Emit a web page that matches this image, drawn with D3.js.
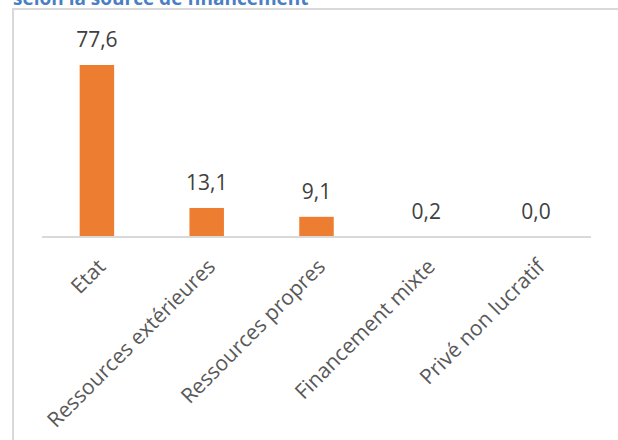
<!DOCTYPE html>
<html><head><meta charset="utf-8">
<script src="https://cdn.jsdelivr.net/npm/d3@7"></script>
<style>html,body{margin:0;padding:0;background:#fff;overflow:hidden}</style>
</head><body>
<svg id="c" width="618" height="440"></svg>
<script>
const categories = ["Etat", "Ressources extérieures", "Ressources propres", "Financement mixte", "Privé non lucratif"];
const values = [77.6, 13.1, 9.1, 0.2, 0.0];
const valueLabels = ["77,6", "13,1", "9,1", "0,2", "0,0"];
const title = "selon la source de financement";

const svg = d3.select("#c");
const font = "'Open Sans', sans-serif";

// title (cut at top, as in the reference)
svg.append("text").attr("x", 13).attr("y", 5)
  .attr("font-family", font).attr("font-weight", "bold").attr("font-size", 19)
  .attr("fill", "#4A7FC3").text(title);

// frame
svg.append("rect").attr("x", 13).attr("y", 9).attr("width", 700).attr("height", 500)
  .attr("fill", "#fff").attr("stroke", "#D9D9D9").attr("stroke-width", 2);

const x = d3.scaleBand().domain(categories).range([42, 591]).paddingInner(0.686).paddingOuter(0.343);
const y = d3.scaleLinear().domain([0, 80]).range([237, 237 - 80 * 2.2165]);

svg.selectAll("rect.bar").data(values).join("rect").attr("class", "bar")
  .attr("x", (d, i) => x(categories[i]))
  .attr("width", x.bandwidth())
  .attr("y", d => y(d))
  .attr("height", d => y(0) - y(d))
  .attr("fill", "#ED7D31");

// axis
const axis = d3.axisBottom(x).tickSize(0).tickPadding(0);
const g = svg.append("g").attr("transform", `translate(0,${y(0)})`).call(axis);
g.select(".domain").attr("stroke", "#D9D9D9").attr("stroke-width", 2).attr("d", "M42,0H591");
g.selectAll(".tick text")
  .attr("font-family", font).attr("font-size", 21).attr("fill", "#595959")
  .attr("text-anchor", "end").attr("dy", null).attr("y", null)
  .attr("transform", "translate(10,31) rotate(-45)");

// value labels
svg.selectAll("text.val").data(values).join("text").attr("class", "val")
  .attr("x", (d, i) => x(categories[i]) + x.bandwidth() / 2)
  .attr("y", d => y(d) - 18)
  .attr("text-anchor", "middle")
  .attr("font-family", font).attr("font-size", 21).attr("fill", "#404040")
  .text((d, i) => valueLabels[i]);
</script>
</body></html>
